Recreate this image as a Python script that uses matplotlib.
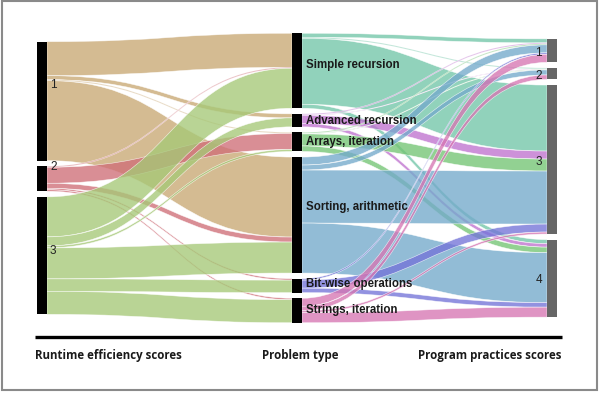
import matplotlib
matplotlib.use("Agg")
import matplotlib.pyplot as plt
from matplotlib.path import Path
from matplotlib.patches import PathPatch, Rectangle
import numpy as np

# ---------------- data ----------------
left_nodes = ["1", "2", "3"]
mid_nodes = ["Simple recursion", "Advanced recursion", "Arrays, iteration",
             "Sorting, arithmetic", "Bit-wise operations", "Strings, iteration"]
right_nodes = ["1", "2", "3", "4"]

# flows runtime score -> problem type (rows: left nodes, cols: mid nodes)
flow_score1 = [34, 4, 1, 80, 0, 0]
flow_score2 = [1, 0, 16, 5, 1.5, 1.5]
flow_score3 = [40, 9, 2, 31, 12.5, 23]

# flows problem type -> practices score (rows: mid nodes, cols: right nodes)
flow_simple = [4, 1, 66, 4]
flow_advanced = [1, 0.5, 8, 3.5]
flow_arrays = [1, 0.5, 12, 5.5]
flow_sorting = [8, 5, 53, 50]
flow_bitwise = [1.5, 0, 8, 4.5]
flow_strings = [8, 4.5, 2, 10]

column_titles = ["Runtime efficiency scores", "Problem type", "Program practices scores"]

# ---------------- style ----------------
left_colors = ["#c9a874", "#cf6e78", "#a6c877"]
mid_colors = ["#72c6a8", "#bf72cf", "#74c474", "#74aacb", "#7474d8", "#d676b3"]

LM = np.array([flow_score1, flow_score2, flow_score3], dtype=float)
MR = np.array([flow_simple, flow_advanced, flow_arrays, flow_sorting,
               flow_bitwise, flow_strings], dtype=float)

W, H = 600, 393
fig = plt.figure(figsize=(6.0, 3.93), dpi=100)
ax = fig.add_axes([0, 0, 1, 1])
ax.set_xlim(0, W)
ax.set_ylim(H, 0)
ax.axis("off")

scale = 1.0      # px per unit
gap = 5.6
center_y = 178
bar_w = 10
col_x = [37, 292, 547]


def layout(totals):
    totals = np.asarray(totals) * scale
    span = totals.sum() + gap * (len(totals) - 1)
    tops = []
    y = center_y - span / 2
    for t in totals:
        tops.append(y)
        y += t + gap
    return np.array(tops), totals


left_tot = LM.sum(axis=1)
mid_tot = LM.sum(axis=0)
right_tot = MR.sum(axis=0)
lt, lh = layout(left_tot)
mt, mh = layout(mid_tot)
rt, rh = layout(right_tot)


def ribbon(x0, y0a, y0b, x1, y1a, y1b, color):
    xm = (x0 + x1) / 2
    verts = [(x0, y0a), (xm, y0a), (xm, y1a), (x1, y1a),
             (x1, y1b), (xm, y1b), (xm, y0b), (x0, y0b), (x0, y0a)]
    codes = [Path.MOVETO, Path.CURVE4, Path.CURVE4, Path.CURVE4,
             Path.LINETO, Path.CURVE4, Path.CURVE4, Path.CURVE4, Path.CLOSEPOLY]
    p = PathPatch(Path(verts, codes), facecolor=color, alpha=0.78,
                  edgecolor="white", lw=0.4, zorder=2)
    ax.add_patch(p)


def draw_flows(M, src_tops, dst_tops, xs, xd, colors):
    ns, nd = M.shape
    dst_start = {}
    for j in range(nd):
        acc = 0
        for i in range(ns):
            dst_start[(i, j)] = dst_tops[j] + acc
            acc += M[i, j] * scale
    for i in range(ns):
        acc = 0
        for j in range(nd):
            v = M[i, j] * scale
            if v > 0:
                s0 = src_tops[i] + acc
                d0 = dst_start[(i, j)]
                ribbon(xs, s0, s0 + v, xd, d0, d0 + v, colors[i])
            acc += v


draw_flows(LM, lt, mt, col_x[0] + bar_w, col_x[1], left_colors)
draw_flows(MR, mt, rt, col_x[1] + bar_w, col_x[2], mid_colors)

# node bars
for tops, hs, x, c in [(lt, lh, col_x[0], "black"), (mt, mh, col_x[1], "black"),
                       (rt, rh, col_x[2], "#666666")]:
    for t, h in zip(tops, hs):
        ax.add_patch(Rectangle((x, t), bar_w, h, facecolor=c, edgecolor="none", zorder=3))

# labels
left_label_shift = [-16, -12, -5]
for t, h, name, s in zip(lt, lh, left_nodes, left_label_shift):
    ax.text(col_x[0] + bar_w + 3, t + h / 2 + s, name, fontsize=8.5,
            family="Liberation Sans", color="#222222", va="center", ha="left", zorder=4)

mid_label_shift = [-6, 1, 0, -8, -2, -1]
for t, h, name, s in zip(mt, mh, mid_nodes, mid_label_shift):
    ax.text(col_x[1] + bar_w + 4, t + h / 2 + s, name, fontsize=8.3,
            family="Liberation Sans", fontweight="bold", color="#1a1a1a",
            va="center", ha="left", zorder=4)

for t, h, name in zip(rt, rh, right_nodes):
    ax.text(col_x[2] - 5, t + h / 2 + 2, name, fontsize=8.5,
            family="Liberation Sans", color="#222222", va="center", ha="right", zorder=4)

# baseline and column titles
ax.plot([35, 562], [337, 337], color="black", lw=2.4, solid_capstyle="butt", zorder=4)
ax.text(35, 355, column_titles[0], fontsize=8.3, family="Open Sans", fontweight="bold",
        ha="left", va="center", color="#1a1a1a")
ax.text(300, 355, column_titles[1], fontsize=8.3, family="Open Sans", fontweight="bold",
        ha="center", va="center", color="#1a1a1a")
ax.text(562, 355, column_titles[2], fontsize=8.3, family="Open Sans", fontweight="bold",
        ha="right", va="center", color="#1a1a1a")

# outer frame
ax.add_patch(Rectangle((1.5, 1.0), 595, 389, facecolor="none", edgecolor="#8a8a8a",
                       lw=1.5, zorder=5))

fig.savefig("out.png", dpi=100)
